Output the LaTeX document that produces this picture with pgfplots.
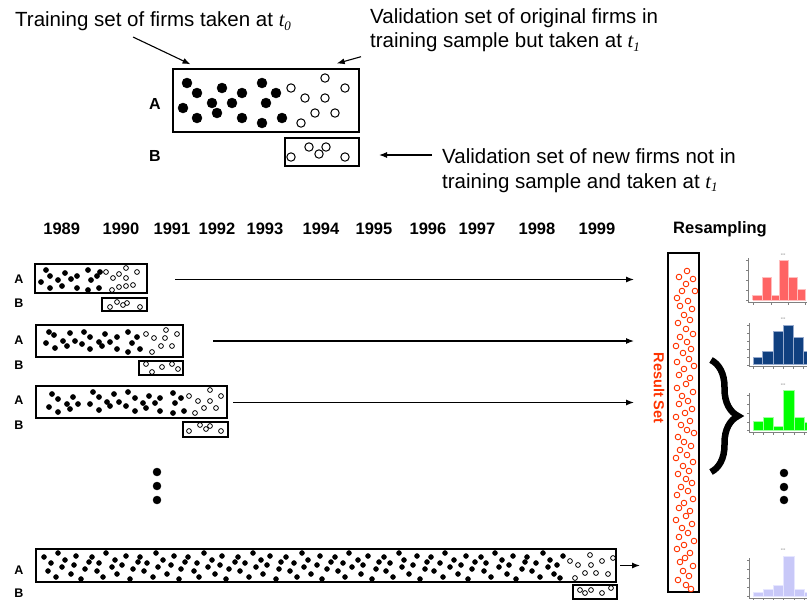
\documentclass[border=0pt]{standalone}
\usepackage{pgfplots}
\pgfplotsset{compat=1.18}
\usepackage{fontspec}
\setmainfont{Liberation Sans}
\newfontfamily\tms{Liberation Serif}
\usetikzlibrary{arrows.meta,decorations.pathreplacing}
\definecolor{rsred}{RGB}{255,51,0}
\definecolor{hred}{RGB}{255,100,100}
\definecolor{hredl}{RGB}{255,190,190}
\definecolor{hblue}{RGB}{16,64,128}
\definecolor{hbluel}{RGB}{150,170,205}
\definecolor{hgreen}{RGB}{0,255,0}
\definecolor{hgreenl}{RGB}{160,255,160}
\definecolor{hlav}{RGB}{200,200,248}
\definecolor{hlavl}{RGB}{230,230,255}
\newcommand{\fA}{\fontsize{20.5bp}{24bp}\selectfont}
\newcommand{\fY}{\fontsize{16.5bp}{19bp}\selectfont\bfseries}
\newcommand{\fL}{\fontsize{12.5bp}{14bp}\selectfont\bfseries}
\newcommand{\tsub}[1]{{\tms\itshape t\raisebox{-0.35ex}{\fontsize{13bp}{13bp}\selectfont #1}}}
\newcommand{\hb}[6]{\addplot[fill=#1,draw=#2,line width=1bp] coordinates {(#3,#6) (#3,#5) (#4,#5) (#4,#6) (#3,#6)};}
\tikzset{arr/.style={-{Latex[length=8bp,width=6bp]},line width=1.1bp},
         bx/.style={line width=1.3bp}}
\begin{document}
\begin{tikzpicture}
\begin{axis}[x=1bp,y=1bp,xmin=0,xmax=807,ymin=0,ymax=600,y dir=reverse,hide axis,clip=false]
% ---------- top explanatory panel ----------
\node[anchor=base west,inner sep=0] at (axis cs:15,26.7) {\fA Training set of firms taken at \tsub{0}};
\node[anchor=base west,inner sep=0] at (axis cs:370,23.3) {\fA Validation set of original firms in};
\node[anchor=base west,inner sep=0] at (axis cs:370,47.7) {\fA training sample but taken at \tsub{1}};
\node[anchor=base west,inner sep=0] at (axis cs:442,163.3) {\fA Validation set of new firms not in};
\node[anchor=base west,inner sep=0] at (axis cs:442,188.3) {\fA training sample and taken at \tsub{1}};
\draw[arr] (axis cs:133,37) -- (axis cs:190.5,64.3);
\draw[arr] (axis cs:361,56.7) -- (axis cs:336.7,63.5);
\draw[arr] (axis cs:432,155) -- (axis cs:379,155);
\draw[bx] (axis cs:173,69) rectangle (axis cs:359,132);
\draw[bx] (axis cs:285,138) rectangle (axis cs:359,166);
\node[inner sep=0] at (axis cs:155,104) {\fontsize{16bp}{18bp}\selectfont\bfseries A};
\node[inner sep=0] at (axis cs:155,156) {\fontsize{16bp}{18bp}\selectfont\bfseries B};
\addplot[only marks,mark=*,mark size=5bp,black] coordinates {(187,83) (197,93) (222,88) (242,93) (262,83) (276,93) (183,108) (212,103) (232,103) (266,103) (197,118) (217,113) (242,118) (262,123) (282,118)};
\addplot[only marks,mark=o,mark size=4.2bp,black,mark options={line width=1bp}] coordinates {(325,78) (345,88) (291,88) (305,98) (325,98) (315,113) (335,113) (301,123) (291,157) (309,147) (319,154) (326,147) (345,157)};
% ---------- years ----------
\node[anchor=base,inner sep=0] at (axis cs:61.7,234) {\fY 1989};
\node[anchor=base,inner sep=0] at (axis cs:121,234) {\fY 1990};
\node[anchor=base,inner sep=0] at (axis cs:172,234) {\fY 1991};
\node[anchor=base,inner sep=0] at (axis cs:217,234) {\fY 1992};
\node[anchor=base,inner sep=0] at (axis cs:265,234) {\fY 1993};
\node[anchor=base,inner sep=0] at (axis cs:321,234) {\fY 1994};
\node[anchor=base,inner sep=0] at (axis cs:374,234) {\fY 1995};
\node[anchor=base,inner sep=0] at (axis cs:428,234) {\fY 1996};
\node[anchor=base,inner sep=0] at (axis cs:477,234) {\fY 1997};
\node[anchor=base,inner sep=0] at (axis cs:537,234) {\fY 1998};
\node[anchor=base,inner sep=0] at (axis cs:597,234) {\fY 1999};
\node[anchor=base,inner sep=0] at (axis cs:720,233.3) {\fY Resampling};
% ---------- row labels ----------
\node[inner sep=0] at (axis cs:19,279.5) {\fL A};
\node[inner sep=0] at (axis cs:19,303.5) {\fL B};
\node[inner sep=0] at (axis cs:19,340) {\fL A};
\node[inner sep=0] at (axis cs:19,365) {\fL B};
\node[inner sep=0] at (axis cs:19,400) {\fL A};
\node[inner sep=0] at (axis cs:19,425) {\fL B};
\node[inner sep=0] at (axis cs:19,570) {\fL A};
\node[inner sep=0] at (axis cs:19,593) {\fL B};
% ---------- row boxes ----------
\draw[bx] (axis cs:35,264) rectangle (axis cs:147,293);
\draw[bx] (axis cs:102,298) rectangle (axis cs:147,311);
\draw[bx] (axis cs:36,325) rectangle (axis cs:183,357);
\draw[bx] (axis cs:139,361) rectangle (axis cs:183,375);
\draw[bx] (axis cs:36,386) rectangle (axis cs:227,418);
\draw[bx] (axis cs:183,422) rectangle (axis cs:228,437);
\draw[bx] (axis cs:36,549) rectangle (axis cs:616,582);
\draw[bx] (axis cs:573,585) rectangle (axis cs:617,599);
\draw[bx] (axis cs:668,253) rectangle (axis cs:699,592);
% ---------- row arrows ----------
\draw[arr] (axis cs:175,279.5) -- (axis cs:634,279.5);
\draw[arr] (axis cs:213,341) -- (axis cs:634,341);
\draw[arr] (axis cs:233,402.5) -- (axis cs:634,402.5);
\draw[arr] (axis cs:620,565.5) -- (axis cs:640,565.5);
% ---------- row dots ----------
\addplot[only marks,mark=*,mark size=2.6bp,black] coordinates {
(46,270) (50,276) (41,282) (58,280) (65,273) (71,279) (77,276) (88,270) (91,280) (97,276) (100,272) (50,288) (62,286) (77,288) (88,290) (99,288)
(49,332) (54,335) (70,333) (84,332) (90,337) (105,334) (117,337) (128,332) (137,337) (46,343) (63,341) (75,341) (82,344) (99,342) (110,342) (132,343) (55,348) (67,346) (90,349) (102,346) (117,349) (128,352) (140,349)
(52,394) (58,399) (73,397) (93,392) (99,397) (114,394) (128,392) (135,398) (149,396) (160,398) (173,393) (181,398) (49,407) (67,404) (78,404) (90,404) (107,402) (119,402) (126,406) (143,403) (155,403) (175,403) (58,412) (70,409) (99,410) (110,406) (135,411) (146,408) (160,411) (173,413) (184,411)
};
\addplot[only marks,mark=*,mark size=2.5bp,black] coordinates {
(44,557) (48,571) (51,563) (56,577) (58,553) (62,567) (65,560) (71,574) (74,565) (76,556) (81,579) (85,569) (89,562)
(92,557) (97,571) (99,563) (103,577) (106,553) (112,567) (115,560) (117,574) (122,565) (126,556) (130,579) (133,569) (138,562)
(140,557) (144,571) (147,563) (153,577) (156,553) (158,567) (163,560) (167,574) (171,565) (174,556) (179,579) (181,569) (185,562)
(188,557) (194,571) (197,563) (199,577) (204,553) (208,567) (212,560) (215,574) (220,565) (222,556) (226,579) (229,569) (235,562)
(238,557) (240,571) (245,563) (249,577) (253,553) (256,567) (261,560) (263,574) (267,565) (270,556) (276,579) (279,569) (281,562)
(286,557) (290,571) (294,563) (297,577) (302,553) (304,567) (308,560) (311,574) (317,565) (320,556) (322,579) (327,569) (331,562)
(335,557) (338,571) (343,563) (345,577) (349,553) (352,567) (358,560) (361,574) (363,565) (368,556) (372,579) (376,569) (379,562)
(384,557) (386,571) (390,563) (393,577) (399,553) (402,567) (404,560) (409,574) (413,565) (417,556) (420,579) (425,569) (427,562)
(431,557) (434,571) (440,563) (443,577) (445,553) (450,567) (454,560) (458,574) (461,565) (466,556) (468,579) (472,569) (475,562)
(481,557) (484,571) (486,563) (491,577) (495,553) (499,567) (502,560) (507,574) (509,565) (513,556) (516,579) (522,569) (525,562)
(527,557) (532,571) (536,563) (540,577) (543,553) (548,567) (550,560) (554,574) (557,565) (563,556) (560,578)
};
\addplot[only marks,mark=o,mark size=2.4bp,black,mark options={line width=0.8bp}] coordinates {
(106,272) (113,278) (119,274) (126,268) (137,272) (126,278) (112,290) (119,287) (126,286) (133,285)
(110,307) (117,302) (123,305) (127,303) (140,307)
(146,334) (154,338) (165,338) (177,334) (166,330) (161,346) (172,346) (152,352)
(146,364) (152,372) (162,367) (172,364) (178,369)
(189,396) (198,401) (210,390) (210,401) (221,396) (204,408) (216,408) (195,413)
(189,431) (200,425) (206,429) (210,426) (221,431)
(570,561) (578,565) (590,555) (591,565) (602,561) (613,558) (575,578) (585,573) (596,573) (608,574)
(580,590) (585,593) (591,590) (602,593) (611,588)
};
% ---------- vertical ellipses ----------
\addplot[only marks,mark=*,mark size=4bp,black] coordinates {(157,472) (157,486) (157,500) (784,473) (784,487) (784,500)};
% ---------- result set ----------
\addplot[only marks,mark=o,mark size=2.8bp,rsred,mark options={line width=0.9bp}] coordinates {
(687,271) (679,277) (693,279) (686,284) (682,291) (695,291) (677,298) (688,301) (680,306) (692,309) (684,315)
(690,320) (678,323) (686,329) (693,334) (680,337) (687,342) (676,346) (691,349) (683,353) (689,359) (677,362)
(694,366) (684,369) (679,375) (690,378) (686,384) (677,388) (693,392) (682,396) (688,401) (679,404) (692,409)
(685,413) (676,417) (690,421) (681,425) (687,430) (694,433) (678,437) (684,442) (691,446) (680,450) (687,455)
(676,458) (693,462) (683,466) (689,471) (678,474) (686,479) (692,483) (681,487) (688,491) (677,495) (693,499)
(684,503) (679,508) (690,511) (686,516) (676,520) (692,524) (682,528) (688,533) (679,537) (694,541) (684,545)
(677,549) (690,553) (685,558) (680,562) (693,566) (683,571) (689,576) (678,580) (686,585) (691,589)
};
\node[rotate=-90,inner sep=0,text=rsred] at (axis cs:659,388) {\fontsize{14.5bp}{16bp}\selectfont\bfseries Result Set};
% ---------- brace ----------
\draw[line width=6.5bp,decorate,decoration={brace,amplitude=27bp,aspect=0.5}] (axis cs:711,360) -- (axis cs:711,472);
% ---------- mini histograms ----------
\draw[gray,line width=0.6bp] (axis cs:748,258) -- (axis cs:748,302.5) -- (axis cs:807,302.5);
\draw[gray,line width=0.6bp] (axis cs:749.5,323) -- (axis cs:749.5,366) -- (axis cs:807,366);
\draw[gray,line width=0.6bp] (axis cs:749.5,393) -- (axis cs:749.5,432) -- (axis cs:807,432);
\draw[gray,line width=0.6bp] (axis cs:749.5,558) -- (axis cs:749.5,598) -- (axis cs:807,598);
\addplot[only marks,mark=-,mark size=1.3bp,gray,mark options={line width=0.5bp}] coordinates {
(747,260) (747,270) (747,280) (747,290) (747,300)
(748.5,325) (748.5,333) (748.5,341) (748.5,349) (748.5,357) (748.5,365)
(748.5,395) (748.5,404) (748.5,413) (748.5,422) (748.5,430)
(748.5,560) (748.5,569) (748.5,578) (748.5,587) (748.5,596)};
\addplot[only marks,mark=|,mark size=1.3bp,gray,mark options={line width=0.5bp}] coordinates {
(753,303.8) (771.5,303.8) (788.5,303.8) (805.5,303.8)
(753,367.3) (763,367.3) (773.3,367.3) (783.3,367.3) (793.3,367.3) (803.3,367.3)
(753.3,433.3) (763.3,433.3) (773.3,433.3) (783.3,433.3) (794,433.3) (804,433.3)
(753.3,599.3) (763.3,599.3) (773.3,599.3) (783.3,599.3) (794,599.3) (804,599.3)};
\hb{hred}{hredl}{752.5}{762}{295}{300}
\hb{hred}{hredl}{762}{771.5}{277.7}{300}
\hb{hred}{hredl}{771.5}{779.5}{295}{300}
\hb{hred}{hredl}{779.5}{788.5}{260}{300}
\hb{hred}{hredl}{788.5}{797}{277.7}{300}
\hb{hred}{hredl}{797}{805.5}{289}{300}
\hb{hblue}{hbluel}{753}{762.7}{357.7}{364}
\hb{hblue}{hbluel}{762.7}{773.3}{351.7}{364}
\hb{hblue}{hbluel}{773.3}{783.3}{331.7}{364}
\hb{hblue}{hbluel}{783.3}{793.3}{325}{364}
\hb{hblue}{hbluel}{793.3}{803.3}{337.7}{364}
\hb{hblue}{hbluel}{803.3}{807}{351.7}{364}
\hb{hgreen}{hgreenl}{753.3}{763.3}{421.7}{430}
\hb{hgreen}{hgreenl}{763.3}{773.3}{417.3}{430}
\hb{hgreen}{hgreenl}{773.3}{783.3}{426}{430}
\hb{hgreen}{hgreenl}{783.3}{794}{390}{430}
\hb{hgreen}{hgreenl}{794}{804}{417.3}{430}
\hb{hgreen}{hgreenl}{804}{807}{422}{430}
\hb{hlav}{hlavl}{753.3}{763.3}{592.7}{596}
\hb{hlav}{hlavl}{763.3}{773.3}{589.3}{596}
\hb{hlav}{hlavl}{773.3}{783.3}{585.7}{596}
\hb{hlav}{hlavl}{783.3}{794}{556}{596}
\hb{hlav}{hlavl}{794}{804}{589}{596}
\hb{hlav}{hlavl}{804}{807}{592.7}{596}
\node[inner sep=0,text=gray] at (axis cs:783,255) {\fontsize{3bp}{3bp}\selectfont xxx};
\node[inner sep=0,text=gray] at (axis cs:783,319) {\fontsize{3bp}{3bp}\selectfont xxx};
\node[inner sep=0,text=gray] at (axis cs:783,385) {\fontsize{3bp}{3bp}\selectfont xxx};
\node[inner sep=0,text=gray] at (axis cs:783,550) {\fontsize{3bp}{3bp}\selectfont xxx};
\end{axis}
\pgfresetboundingbox
\useasboundingbox (0,0) rectangle (807bp,600bp);
\end{tikzpicture}
\end{document}
